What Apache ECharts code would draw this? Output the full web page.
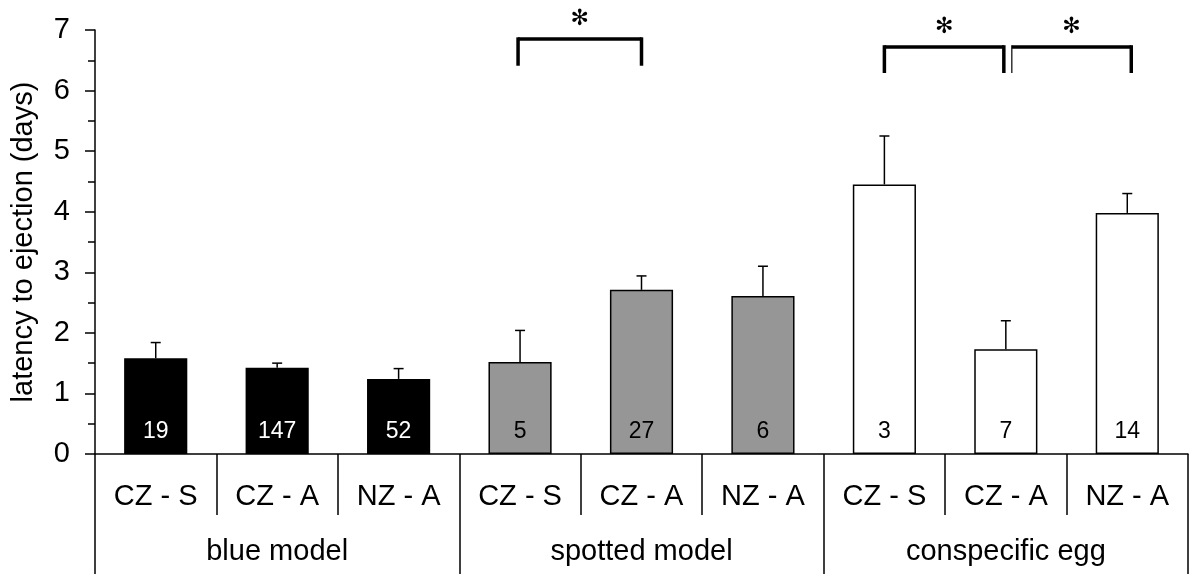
<!DOCTYPE html>
<html>
<head>
<meta charset="utf-8">
<script src="https://cdn.jsdelivr.net/npm/echarts@6/dist/echarts.min.js"></script>
<style>
  html, body { margin: 0; padding: 0; background: #fff; }
  #chart { width: 1192px; height: 574px; }
</style>
</head>
<body>
<div id="chart"></div>
<script>
// Egg-ejection latency by egg type and host population
const groups = ['blue model', 'spotted model', 'conspecific egg'];
const origins = ['CZ - S', 'CZ - A', 'NZ - A'];
const meanLatency = [1.58, 1.425, 1.24, 1.52, 2.71, 2.61, 4.45, 1.73, 3.98];
const stdError = [0.26, 0.075, 0.17, 0.52, 0.23, 0.49, 0.80, 0.47, 0.32];
const sampleSize = [19, 147, 52, 5, 27, 6, 3, 7, 14];
const yTicks = [0, 1, 2, 3, 4, 5, 6, 7];
// significant pairwise differences (category indices)
const significance = [[3, 4], [6, 7], [7, 8]];
const significanceMark = '✻';

const FONT = '"Liberation Sans", Arial, Helvetica, sans-serif';
const groupFill = ['#000000', '#969696', '#ffffff'];
const labelInk = ['#ffffff', '#000000', '#000000'];

// one category per (group, origin) pair
const categories = [];
groups.forEach(g => origins.forEach(o => categories.push(g + '|' + o)));

const barData = meanLatency.map((v, i) => {
  const g = Math.floor(i / origins.length);
  return {
    value: v,
    itemStyle: { color: groupFill[g], borderColor: '#000', borderWidth: 1.5 },
    label: { color: labelInk[g] }
  };
});

// bracket heights (days) and small horizontal nudges (px) so adjacent brackets do not touch
const bracketTop = [6.85, 6.72, 6.72];
const bracketLeg = [6.41, 6.29, 6.29];
const bracketNudge = [[-2, 0], [0, -2], [6, 4]];

const chart = echarts.init(document.getElementById('chart'));
chart.setOption({
  animation: false,
  backgroundColor: '#ffffff',
  grid: { left: 95, right: 4, top: 30, bottom: 120, containLabel: false },
  xAxis: [
    {
      type: 'category',
      data: categories,
      position: 'bottom',
      offset: 0,
      axisLine: { lineStyle: { color: '#000', width: 1.5 } },
      axisTick: { show: true, interval: 0, length: 61, lineStyle: { color: '#000', width: 1.5 } },
      axisLabel: {
        interval: 0, margin: 28, color: '#000', fontFamily: FONT, fontSize: 29,
        formatter: v => v.split('|')[1]
      }
    },
    {
      type: 'category',
      data: groups,
      position: 'bottom',
      offset: 0,
      axisLine: { show: false },
      axisTick: { show: true, interval: 0, length: 120, lineStyle: { color: '#000', width: 1.5 } },
      axisLabel: { interval: 0, margin: 83, color: '#000', fontFamily: FONT, fontSize: 29 }
    }
  ],
  yAxis: {
    type: 'value',
    min: yTicks[0],
    max: yTicks[yTicks.length - 1],
    interval: 1,
    name: 'latency to ejection (days)',
    nameLocation: 'middle',
    nameRotate: 90,
    nameGap: 57,
    nameTextStyle: { color: '#000', fontFamily: FONT, fontSize: 29 },
    axisLine: { show: true, lineStyle: { color: '#000', width: 1.5 } },
    axisTick: { show: true, length: 10, lineStyle: { color: '#000', width: 1.5 } },
    minorTick: { show: true, splitNumber: 2, length: 7, lineStyle: { color: '#000', width: 1.5 } },
    splitLine: { show: false },
    axisLabel: { margin: 25, color: '#000', fontFamily: FONT, fontSize: 29 }
  },
  series: [
    {
      type: 'bar',
      xAxisIndex: 0,
      barWidth: '52%',
      data: barData,
      label: {
        show: true,
        position: 'insideBottom',
        distance: 11,
        fontFamily: FONT,
        fontSize: 23,
        formatter: p => String(sampleSize[p.dataIndex])
      },
      z: 2
    },
    {
      // upward standard-error whiskers
      type: 'custom',
      xAxisIndex: 0,
      data: meanLatency.map((m, i) => [i, m, m + stdError[i]]),
      renderItem: (params, api) => {
        const base = api.coord([api.value(0), api.value(1)]);
        const top = api.coord([api.value(0), api.value(2)]);
        const style = { stroke: '#000', lineWidth: 1.5 };
        return {
          type: 'group',
          children: [
            { type: 'line', shape: { x1: base[0], y1: base[1], x2: top[0], y2: top[1] }, style },
            { type: 'line', shape: { x1: top[0] - 5, y1: top[1], x2: top[0] + 5, y2: top[1] }, style }
          ]
        };
      },
      z: 3
    },
    {
      // significance brackets with asterisks
      type: 'custom',
      xAxisIndex: 0,
      clip: false,
      data: significance.map(s => [s[0], s[1]]),
      renderItem: (params, api) => {
        const k = params.dataIndex;
        const a = api.coord([api.value(0), bracketTop[k]]);
        const b = api.coord([api.value(1), bracketTop[k]]);
        const leg = api.coord([api.value(0), bracketLeg[k]])[1];
        const x1 = a[0] + bracketNudge[k][0];
        const x2 = b[0] + bracketNudge[k][1];
        const w = k === 2 ? [1.2, 3.5] : [3.5, 3.5];
        return {
          type: 'group',
          children: [
            { type: 'line', shape: { x1: x1, y1: a[1], x2: x2, y2: a[1] }, style: { stroke: '#000', lineWidth: 3.5 } },
            { type: 'line', shape: { x1: x1, y1: a[1] - 1.75, x2: x1, y2: leg }, style: { stroke: '#000', lineWidth: w[0] } },
            { type: 'line', shape: { x1: x2, y1: a[1] - 1.75, x2: x2, y2: leg }, style: { stroke: '#000', lineWidth: w[1] } },
            {
              type: 'text',
              style: {
                text: significanceMark, x: (x1 + x2) / 2, y: a[1] - 20,
                align: 'center', verticalAlign: 'middle',
                font: 'bold 22px "DejaVu Sans", sans-serif',
                fill: '#000'
              }
            }
          ]
        };
      },
      z: 4
    }
  ]
});
</script>
</body>
</html>
